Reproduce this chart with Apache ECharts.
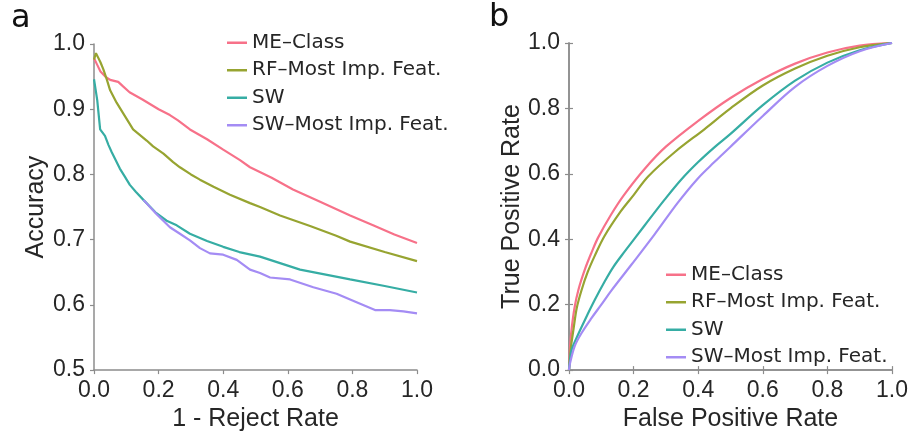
<!DOCTYPE html>
<html>
<head>
<meta charset="utf-8">
<script src="https://cdn.jsdelivr.net/npm/echarts@6/dist/echarts.min.js"></script>
<style>
  html, body { margin: 0; padding: 0; background: #fff; }
  #chart { width: 911px; height: 437px; }
</style>
</head>
<body>
<div id="chart"></div>
<script>
// Series names and colours
const seriesNames = ['ME\u2013Class', 'RF\u2013Most Imp. Feat.', 'SW', 'SW\u2013Most Imp. Feat.'];
const seriesColors = ['#f77189', '#97a431', '#36ada4', '#a48cf4'];

// Panel a: accuracy vs. 1 - reject rate, [fraction kept, accuracy]
const accMEClass = [
  [0, 0.978], [0.01, 0.968], [0.02, 0.958], [0.035, 0.950], [0.05, 0.945], [0.075, 0.942],
  [0.09, 0.935], [0.11, 0.926], [0.15, 0.915], [0.2, 0.900], [0.235, 0.891], [0.26, 0.883],
  [0.297, 0.869], [0.35, 0.854], [0.4, 0.838], [0.452, 0.822], [0.483, 0.811], [0.55, 0.795],
  [0.616, 0.777], [0.7, 0.758], [0.793, 0.737], [0.864, 0.722], [0.93, 0.708], [1.0, 0.695]
];
const accRFMost = [
  [0, 0.976], [0.006, 0.986], [0.012, 0.985], [0.02, 0.972], [0.029, 0.961], [0.04, 0.945],
  [0.05, 0.929], [0.07, 0.910], [0.09, 0.894], [0.121, 0.869], [0.163, 0.852], [0.183, 0.843],
  [0.215, 0.832], [0.245, 0.819], [0.266, 0.811], [0.3, 0.800], [0.328, 0.792], [0.37, 0.781],
  [0.421, 0.769], [0.483, 0.756], [0.514, 0.750], [0.576, 0.737], [0.669, 0.721], [0.75, 0.706],
  [0.793, 0.697], [0.9, 0.681], [1.0, 0.667]
];
const accSW = [
  [0, 0.946], [0.005, 0.930], [0.01, 0.914], [0.019, 0.869], [0.034, 0.859], [0.045, 0.845],
  [0.055, 0.834], [0.07, 0.819], [0.08, 0.809], [0.095, 0.797], [0.111, 0.784], [0.13, 0.773],
  [0.153, 0.761], [0.19, 0.742], [0.225, 0.729], [0.256, 0.722], [0.297, 0.709], [0.35, 0.698],
  [0.4, 0.689], [0.45, 0.681], [0.514, 0.674], [0.638, 0.654], [0.793, 0.639], [0.9, 0.629],
  [1.0, 0.619]
];
const accSWMost = [
  [0.153, 0.761], [0.194, 0.739], [0.235, 0.719], [0.266, 0.709], [0.297, 0.699], [0.328, 0.687],
  [0.359, 0.679], [0.4, 0.677], [0.442, 0.669], [0.483, 0.654], [0.514, 0.649], [0.545, 0.642],
  [0.607, 0.639], [0.679, 0.627], [0.751, 0.617], [0.813, 0.604], [0.87, 0.592], [0.916, 0.592],
  [0.958, 0.590], [1.0, 0.587]
];

// Panel b: ROC curves, [false positive rate, true positive rate]
const rocMEClass = [
  [0, 0], [0.003, 0.07], [0.008, 0.125], [0.017, 0.19], [0.029, 0.245], [0.05, 0.31],
  [0.07, 0.36], [0.09, 0.405], [0.13, 0.475], [0.17, 0.535], [0.234, 0.615], [0.3, 0.683],
  [0.4, 0.762], [0.5, 0.832], [0.6, 0.89], [0.7, 0.937], [0.8, 0.971], [0.9, 0.992], [1, 1]
];
const rocRFMost = [
  [0, 0], [0.006, 0.07], [0.014, 0.125], [0.024, 0.19], [0.039, 0.245], [0.058, 0.3],
  [0.08, 0.35], [0.11, 0.41], [0.16, 0.485], [0.2, 0.535], [0.245, 0.592], [0.327, 0.666],
  [0.42, 0.737], [0.5, 0.8], [0.6, 0.87], [0.7, 0.922], [0.8, 0.961], [0.9, 0.987], [1, 1]
];
const rocSW = [
  [0, 0], [0.003, 0.03], [0.008, 0.062], [0.024, 0.1], [0.05, 0.155], [0.08, 0.215],
  [0.11, 0.27], [0.137, 0.315], [0.172, 0.362], [0.234, 0.442], [0.296, 0.521], [0.347, 0.582],
  [0.4, 0.636], [0.45, 0.681], [0.5, 0.722], [0.6, 0.81], [0.7, 0.885], [0.8, 0.94],
  [0.9, 0.978], [1, 1]
];
const rocSWMost = [
  [0, 0], [0.003, 0.02], [0.018, 0.074], [0.04, 0.115], [0.069, 0.158], [0.1, 0.2],
  [0.131, 0.243], [0.193, 0.322], [0.265, 0.415], [0.337, 0.512], [0.399, 0.586], [0.45, 0.636],
  [0.5, 0.683], [0.6, 0.777], [0.7, 0.866], [0.8, 0.93], [0.9, 0.975], [1, 1]
];

// Axis ranges and titles
const accYRange = [0.5, 1.0];
const unitRange = [0, 1];
const tickStep = 0.2;
const accTickStep = 0.1;
const axisTitles = {
  accX: '1 - Reject Rate', accY: 'Accuracy',
  rocX: 'False Positive Rate', rocY: 'True Positive Rate'
};
const panelLetters = ['a', 'b'];

const tickFont = 'Liberation Sans, Arial, sans-serif';
const legendFont = 'DejaVu Sans, Verdana, sans-serif';
const axisGray = '#8c8c8c';
const textColor = '#262626';

function valueAxis(gridIndex, range, step, opts) {
  return Object.assign({
    type: 'value',
    gridIndex: gridIndex,
    min: range[0],
    max: range[1],
    interval: step,
    splitLine: { show: false },
    axisLine: { show: true, lineStyle: { color: axisGray, width: 1.5 } },
    axisTick: { show: true, length: 4, inside: false, lineStyle: { color: axisGray, width: 1.2 } },
    axisLabel: {
      show: true, margin: 9, color: textColor,
      fontFamily: tickFont, fontSize: 23,
      formatter: v => v.toFixed(1)
    },
    nameLocation: 'middle',
    nameTextStyle: { color: textColor, fontFamily: tickFont, fontSize: 25 }
  }, opts);
}

function bareAxis(gridIndex, range, step, position) {
  return valueAxis(gridIndex, range, step, {
    position: position,
    axisLabel: { show: false }
  });
}

function lineSeries(name, color, data, xi, yi, smooth) {
  return {
    type: 'line', name: name, data: data,
    xAxisIndex: xi, yAxisIndex: yi,
    showSymbol: false, symbol: 'none',
    smooth: smooth,
    lineStyle: { color: color, width: 2.2 },
    itemStyle: { color: color },
    animation: false
  };
}

const accData = [accMEClass, accRFMost, accSW, accSWMost];
const rocData = [rocMEClass, rocRFMost, rocSW, rocSWMost];

const series = [];
accData.forEach((d, i) => series.push(lineSeries(seriesNames[i], seriesColors[i], d, 0, 0, false)));
rocData.forEach((d, i) => series.push(lineSeries(seriesNames[i], seriesColors[i], d, 1, 1, 0.35)));

function legendAt(left, top) {
  return {
    left: left, top: top,
    padding: 0,
    orient: 'vertical',
    icon: 'rect',
    itemWidth: 20, itemHeight: 2.5,
    itemGap: 6,
    data: seriesNames,
    textStyle: { fontFamily: legendFont, fontSize: 20, color: textColor, lineHeight: 21.5, padding: [0, 0, 0, 0] },
    selectedMode: false
  };
}

const letterStyle = { fontFamily: legendFont, fontSize: 32, fontWeight: 'normal', color: '#111' };

const option = {
  animation: false,
  backgroundColor: '#ffffff',
  title: [
    { text: panelLetters[0], left: 11, top: 3, padding: 0, textStyle: letterStyle },
    { text: panelLetters[1], left: 489, top: 2, padding: 0, textStyle: letterStyle }
  ],
  grid: [
    { left: 94, right: 494, top: 44, bottom: 59 },
    { left: 569, right: 18, top: 43, bottom: 59 }
  ],
  legend: [legendAt(227, 32), legendAt(666, 264)],
  xAxis: [
    valueAxis(0, unitRange, tickStep, { name: axisTitles.accX, nameGap: 31 }),
    valueAxis(1, unitRange, tickStep, { name: axisTitles.rocX, nameGap: 31 }),
    bareAxis(1, unitRange, tickStep, 'top')
  ],
  yAxis: [
    valueAxis(0, accYRange, accTickStep, { name: axisTitles.accY, nameGap: 45 }),
    valueAxis(1, unitRange, tickStep, { name: axisTitles.rocY, nameGap: 44 }),
    bareAxis(1, unitRange, tickStep, 'right')
  ],
  series: series
};

const chart = echarts.init(document.getElementById('chart'), null, { renderer: 'canvas' });
chart.setOption(option);
</script>
</body>
</html>
